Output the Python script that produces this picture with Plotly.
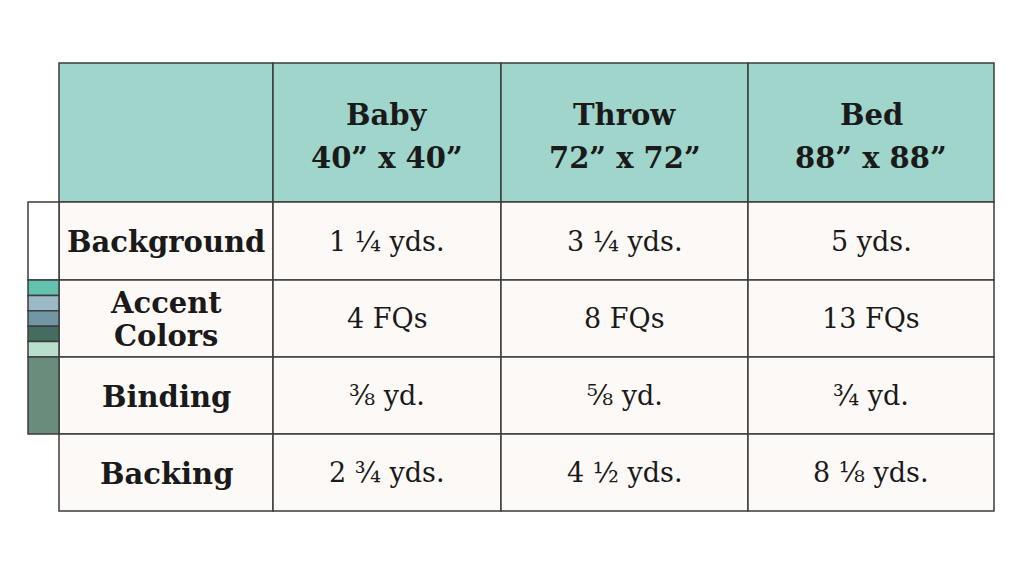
import plotly.graph_objects as go

# table content
sizes = ["Baby", "Throw", "Bed"]
dims = ["40\u201d x 40\u201d", "72\u201d x 72\u201d", "88\u201d x 88\u201d"]
items = ["Background", "Accent<br>Colors", "Binding", "Backing"]
amounts = [
    ["1 \u00bc yds.", "3 \u00bc yds.", "5 yds."],
    ["4 FQs", "8 FQs", "13 FQs"],
    ["\u215c yd.", "\u215d yd.", "\u00be yd."],
    ["2 \u00be yds.", "4 \u00bd yds.", "8 \u215b yds."],
]
# fabric swatches shown beside each row (none for backing)
swatches = [
    ["#ffffff"],
    ["#63c2ad", "#9bb9c7", "#7197a5", "#456d5f", "#b7dfcb"],
    ["#6a8c7c"],
    [],
]

# layout
x0, y0 = 59, 63
col_w = [214, 228, 247, 246]
row_h = [139, 78, 77, 77, 77]
sw_w = 31
header_fill = "#9fd5ca"
cell_fill = "#fdf9f6"
line_col = "#3d3d3d"
ink = "#1a1a1a"
font = "DejaVu Serif"
off = 8  # page body margin

xe = [x0]
for w in col_w:
    xe.append(xe[-1] + w)
ye = [y0]
for h in row_h:
    ye.append(ye[-1] + h)

fig = go.Figure()
shapes = []
ann = []


def lines(text, xc, yc, pitch, size, bold):
    parts = text.split("<br>")
    n = len(parts)
    for i, p in enumerate(parts):
        ann.append(dict(x=xc, y=yc + (i - (n - 1) / 2) * pitch,
                        text="<b>%s</b>" % p if bold else p,
                        font=dict(family=font, size=size, color=ink)))


for r in range(len(row_h)):
    for c in range(len(col_w)):
        shapes.append(dict(type="rect", xref="x", yref="y",
                           x0=xe[c], x1=xe[c + 1], y0=ye[r], y1=ye[r + 1],
                           fillcolor=header_fill if r == 0 else cell_fill,
                           line=dict(color=line_col, width=1.5), layer="below"))

# header text
for i, (s, d) in enumerate(zip(sizes, dims)):
    lines(s + "<br>" + d, (xe[i + 1] + xe[i + 2]) / 2, (ye[0] + ye[1]) / 2 + 4,
          43, 29, True)

# body
for r, item in enumerate(items):
    yc = (ye[r + 1] + ye[r + 2]) / 2
    lines(item, (xe[0] + xe[1]) / 2, yc + 1, 33, 29, True)
    for c, v in enumerate(amounts[r]):
        lines(v, (xe[c + 1] + xe[c + 2]) / 2, yc, 33, 27, False)
    cols = swatches[r]
    if cols:
        h = row_h[r + 1] / len(cols)
        for k, col in enumerate(cols):
            shapes.append(dict(type="rect", xref="x", yref="y",
                               x0=x0 - sw_w, x1=x0,
                               y0=ye[r + 1] + k * h, y1=ye[r + 1] + (k + 1) * h,
                               fillcolor=col, line=dict(color=line_col, width=1.5),
                               layer="below"))

for a in ann:
    a.update(xref="x", yref="y", showarrow=False, xanchor="center", yanchor="middle")

fig.update_layout(
    width=1024, height=576,
    margin=dict(l=0, r=0, t=0, b=0),
    paper_bgcolor="white", plot_bgcolor="white",
    shapes=shapes, annotations=ann,
    xaxis=dict(range=[off, 1024 + off], visible=False, fixedrange=True),
    yaxis=dict(range=[576 + off, off], visible=False, fixedrange=True),
    showlegend=False,
)

fig.write_html("out.html")
